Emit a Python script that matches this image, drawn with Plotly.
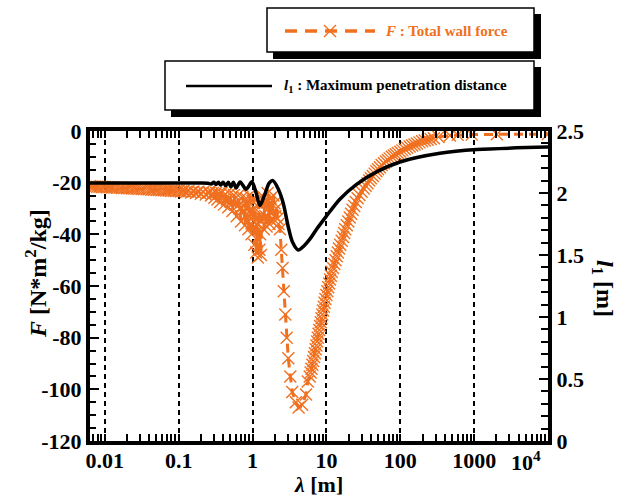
import plotly.graph_objects as go

ORANGE = "#F07020"
FONT = "Liberation Serif"

# ---------------- data ----------------
# l1 : maximum penetration distance [m] vs lambda [m]
lam_l1 = [0.0063, 0.01, 0.03, 0.1, 0.2, 0.25, 0.275, 0.30, 0.32, 0.345, 0.37, 0.40, 0.435,
          0.47, 0.51, 0.55, 0.60, 0.68, 0.82, 0.98, 1.12, 1.26, 1.45, 1.68, 1.89, 2.2, 2.6,
          3.04, 3.5, 4.16, 5.0, 6.0, 7.4, 9.9, 15.2, 25.6, 47.8, 99, 344, 1090, 10000]
l1 = [2.08, 2.08, 2.08, 2.08, 2.08, 2.078, 2.072, 2.086, 2.068, 2.086, 2.064, 2.086, 2.058,
      2.086, 2.05, 2.086, 2.04, 2.088, 2.03, 2.09, 2.00, 1.90, 1.98, 2.08, 2.10, 2.04, 1.92,
      1.73, 1.60, 1.54, 1.575, 1.63, 1.71, 1.81, 1.95, 2.07, 2.17, 2.25, 2.32, 2.35, 2.37]

# F : total wall force [N*m^2/kg] vs lambda [m]  (segments)
lam_F_short = [0.0063, 0.0068, 0.0073, 0.0079, 0.0085, 0.0092, 0.0099, 0.0107, 0.0116, 0.0125,
               0.0135, 0.0146, 0.0158, 0.017, 0.0184, 0.0199, 0.0215, 0.0232, 0.025, 0.027,
               0.0292, 0.0315, 0.034, 0.0367, 0.0397, 0.0428, 0.0463, 0.05, 0.054, 0.0583,
               0.063, 0.068, 0.0734, 0.0793, 0.0857, 0.0925, 0.1, 0.108, 0.1166, 0.126,
               0.136, 0.147, 0.1586, 0.1713, 0.185, 0.2, 0.216, 0.233, 0.252]
F_short = [-21.4, -21.5, -21.5, -21.6, -21.6, -21.7, -21.7, -21.8, -21.8, -21.9,
           -21.9, -22.0, -22.0, -22.1, -22.1, -22.2, -22.2, -22.3, -22.3, -22.4,
           -22.4, -22.5, -22.5, -22.6, -22.6, -22.7, -22.7, -22.8, -22.8, -22.9,
           -22.9, -23.0, -23.0, -23.1, -23.1, -23.2, -23.2, -23.4, -23.2, -23.6,
           -23.3, -23.8, -23.4, -24.0, -23.5, -24.3, -23.6, -24.6, -23.7]

lam_F_mid = [0.26, 0.275, 0.29, 0.305, 0.32, 0.335, 0.35, 0.365, 0.38, 0.395, 0.41, 0.43,
             0.45, 0.47, 0.49, 0.51, 0.535, 0.56, 0.585, 0.61, 0.64, 0.67, 0.70, 0.73,
             0.76, 0.79, 0.82, 0.85, 0.88, 0.91, 0.94, 0.97, 1.0]
F_mid = [-23.8, -25.0, -24.0, -25.8, -23.9, -26.5, -24.2, -27.5, -24.0, -25.5, -28.5, -24.5,
         -26.5, -29.5, -24.3, -27.5, -31.0, -24.8, -28.5, -33.0, -25.0, -30.0, -35.0, -25.5,
         -29.0, -36.5, -26.0, -32.0, -38.0, -25.0, -34.0, -40.0, -27.0]

lam_F_osc = [1.03, 1.06, 1.09, 1.12, 1.15, 1.18, 1.21, 1.24, 1.27, 1.30, 1.34, 1.38, 1.42,
             1.46, 1.50, 1.55, 1.60, 1.65, 1.70, 1.75, 1.80, 1.86, 1.92, 1.98, 2.04, 2.10,
             2.17, 2.24]
F_osc = [-26, -44, -30, -47, -36, -49, -28, -46, -40, -48, -25, -34, -38,
         -27, -33, -37, -24, -30, -36, -26, -32, -35, -25, -28, -33, -30,
         -34, -36]

lam_F_dip = [2.35, 2.45, 2.55, 2.65, 2.78, 2.90, 3.05, 3.25, 3.45, 3.85, 4.2, 4.7, 5.3, 5.6]
F_dip = [-38, -46, -53, -62, -71, -80, -88, -95, -101, -105, -107, -106, -102, -97]

lam_F_rise = [5.95, 6.12, 6.28, 6.45, 6.62, 6.80, 7.0, 7.16, 7.33, 7.50, 7.66, 7.83, 8.0,
              8.2, 8.4, 8.6, 8.8, 9.0, 9.23, 9.45, 9.7, 10.0, 10.3, 10.6, 10.9, 11.2, 11.5,
              11.8, 12.3, 12.8, 13.3, 13.8, 14.3, 14.8, 15.4, 16.1, 16.8, 17.4, 18.0, 18.9,
              19.8, 20.7, 21.6, 22.6, 23.8, 25.0, 26.5, 28, 30, 32, 34, 36, 38, 40, 42.5,
              45, 47.5, 50, 53, 56, 60, 64, 68, 72, 77, 82, 87, 93, 100, 107, 115, 124,
              134, 145, 156, 168, 182, 198, 215, 235, 258, 285]
F_rise = [-95, -93.5, -92, -90.5, -89, -87.5, -86, -84.5, -83, -81.5, -80, -78.5, -77,
          -75.5, -74, -72.5, -71, -69.5, -68, -66.5, -65, -63.5, -62, -60.5, -59, -57.5, -56,
          -54.5, -53, -51.5, -50, -48.5, -47, -45.5, -44, -42.5, -41, -39.5, -38, -36.5,
          -35, -33.5, -32, -30.5, -29, -27.5, -26, -24.8, -23.5, -22.3, -21.2, -20.2, -19.2,
          -18.3, -17.4, -16.5, -15.6, -14.8, -14.0, -13.2, -12.5, -11.8, -11.2, -10.6, -10.0,
          -9.5, -9.0, -8.5, -8.0, -7.5, -7.0, -6.5, -6.0, -5.6, -5.2, -4.8, -4.4, -4.0, -3.7,
          -3.4, -3.1, -2.8]

lam_F_far = [330, 470, 600, 930, 2030, 10000]
F_far = [-2.3, -1.7, -1.5, -1.4, -1.3, -1.2]

x_tickvals = [0.01, 0.1, 1, 10, 100, 1000, 10000]
x_ticktext = ["0.01", "0.1", "1", "10", "100", "1000", ""]
yF_tickvals = [-120, -100, -80, -60, -40, -20, 0]
yF_ticktext = ["-120", "-100", "-80", "-60", "-40", "-20", "0"]
yl_tickvals = [0, 0.5, 1, 1.5, 2, 2.5]
yl_ticktext = ["0", "0.5", "1", "1.5", "2", "2.5"]

lam_F = lam_F_short + lam_F_mid + lam_F_osc + lam_F_dip + lam_F_rise + lam_F_far
F = F_short + F_mid + F_osc + F_dip + F_rise + F_far

# ---------------- figure ----------------
W, H = 628, 497
L, R, T, B = 90, 548, 131, 441


def xp(px):
    return (px - L) / (R - L)


def yp(py):
    return (B - py) / (B - T)


fig = go.Figure()

fig.add_trace(go.Scatter(
    x=lam_F, y=F, mode="lines+markers", name="F",
    line=dict(color=ORANGE, width=3, dash="9px,6px"),
    marker=dict(symbol="x-thin", size=12, color=ORANGE, line=dict(width=1.4, color=ORANGE)),
    yaxis="y", showlegend=False))

fig.add_trace(go.Scatter(
    x=lam_l1, y=l1, mode="lines", name="l1",
    line=dict(color="black", width=3.5, shape="spline", smoothing=0.8),
    yaxis="y2", showlegend=False))

tickfont = dict(family=FONT, size=22, color="black", weight="bold")

fig.update_layout(
    width=W, height=H, autosize=False,
    margin=dict(l=L, r=W - R, t=T, b=H - B, pad=0),
    paper_bgcolor="white", plot_bgcolor="white",
    font=dict(family=FONT, color="black"),
    xaxis=dict(
        type="log", range=[-2.2, 4.0],
        tickmode="array", tickvals=x_tickvals, ticktext=x_ticktext,
        ticks="inside", ticklen=7, tickwidth=2, tickcolor="black",
        minor=dict(dtick="D1", ticks="inside", ticklen=5, tickwidth=2, tickcolor="black", showgrid=False),
        showline=True, linewidth=4, linecolor="black", mirror="allticks",
        showgrid=True, gridcolor="black", gridwidth=1.5, griddash="5px,4px",
        zeroline=False, tickfont=tickfont, ticklabelstandoff=-3),
    yaxis=dict(
        range=[-120, 0], tickmode="array", tickvals=yF_tickvals, ticktext=yF_ticktext,
        ticks="inside", ticklen=9, tickwidth=2, tickcolor="black",
        minor=dict(dtick=5, ticks="inside", ticklen=6, tickwidth=2, tickcolor="black", showgrid=False),
        showline=True, linewidth=4, linecolor="black", mirror=True,
        showgrid=False, zeroline=False, tickfont=tickfont),
    yaxis2=dict(
        range=[0, 2.5], overlaying="y", side="right",
        tickmode="array", tickvals=yl_tickvals, ticktext=yl_ticktext,
        ticks="inside", ticklen=9, tickwidth=2, tickcolor="black",
        minor=dict(dtick=0.1, ticks="inside", ticklen=7, tickwidth=2, tickcolor="black", showgrid=False),
        showline=True, linewidth=4, linecolor="black",
        showgrid=False, zeroline=False, tickfont=tickfont),
)

annotations = []
# axis titles
annotations.append(dict(text="<b><i>F</i> [N*m<sup>2</sup>/kg]</b>", x=xp(36), y=yp(274),
                        xref="paper", yref="paper", showarrow=False, textangle=-90,
                        font=dict(family=FONT, size=24, color="black"), xanchor="center", yanchor="middle"))
annotations.append(dict(text="<b><i>λ</i> [m]</b>", x=xp(318), y=yp(484),
                        xref="paper", yref="paper", showarrow=False,
                        font=dict(family=FONT, size=22, color="black"), xanchor="center", yanchor="middle"))
annotations.append(dict(text="<b><i>l</i><sub>1</sub> [m]</b>", x=xp(603), y=yp(288),
                        xref="paper", yref="paper", showarrow=False, textangle=90,
                        font=dict(family=FONT, size=24, color="black"), xanchor="center", yanchor="middle"))
# 10^4 tick label
annotations.append(dict(text="<b>10<sup>4</sup></b>", x=xp(526), y=yp(461),
                        xref="paper", yref="paper", showarrow=False,
                        font=dict(family=FONT, size=22, color="black"), xanchor="center", yanchor="middle"))
# legend texts
annotations.append(dict(text="<b><i>F</i> : Total wall force</b>", x=xp(383), y=yp(31),
                        xref="paper", yref="paper", showarrow=False,
                        font=dict(family=FONT, size=15, color=ORANGE), xanchor="left", yanchor="middle"))
annotations.append(dict(text="<b><i>l</i><sub>1</sub> : Maximum penetration distance</b>", x=xp(282), y=yp(86),
                        xref="paper", yref="paper", showarrow=False,
                        font=dict(family=FONT, size=15, color="black"), xanchor="left", yanchor="middle"))

shapes = []


def box(x0, y0, x1, y1):
    # shadow
    shapes.append(dict(type="path", xref="paper", yref="paper",
                       path=f"M {xp(x0+6)},{yp(y1)} L {xp(x1)},{yp(y1)} L {xp(x1)},{yp(y0+6)} "
                            f"L {xp(x1+7)},{yp(y0+6)} L {xp(x1+7)},{yp(y1+7)} L {xp(x0+6)},{yp(y1+7)} Z",
                       fillcolor="black", line=dict(width=0)))
    shapes.append(dict(type="rect", xref="paper", yref="paper",
                       x0=xp(x0), x1=xp(x1), y0=yp(y1), y1=yp(y0),
                       fillcolor="white", line=dict(color="black", width=1.5)))


box(267, 8, 534, 52)
box(165, 61, 534, 110)
# legend line samples
shapes.append(dict(type="line", xref="paper", yref="paper", x0=xp(285), x1=xp(375), y0=yp(31), y1=yp(31),
                   line=dict(color=ORANGE, width=3.5, dash="12px,8px")))
shapes.append(dict(type="line", xref="paper", yref="paper", x0=xp(324), x1=xp(336), y0=yp(25), y1=yp(37),
                   line=dict(color=ORANGE, width=1.4)))
shapes.append(dict(type="line", xref="paper", yref="paper", x0=xp(324), x1=xp(336), y0=yp(37), y1=yp(25),
                   line=dict(color=ORANGE, width=1.4)))
shapes.append(dict(type="line", xref="paper", yref="paper", x0=xp(186), x1=xp(272), y0=yp(86), y1=yp(86),
                   line=dict(color="black", width=2.5)))

fig.update_layout(annotations=annotations, shapes=shapes)

fig.write_html("out.html", config={"displayModeBar": False},
               post_script="document.body.style.margin='0';")
